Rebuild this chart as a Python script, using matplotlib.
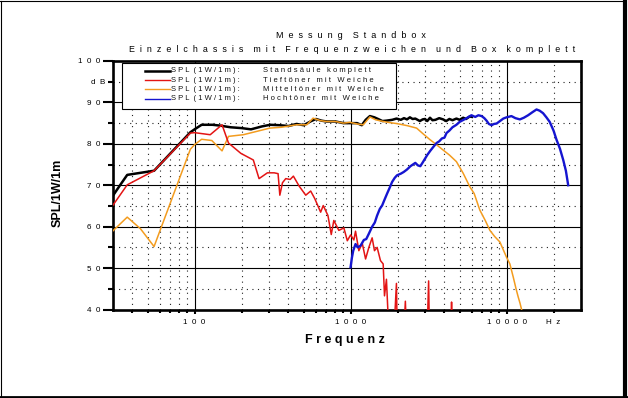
import matplotlib
matplotlib.use("Agg")
import matplotlib.pyplot as plt
from matplotlib.lines import Line2D
from matplotlib.patches import Rectangle

plt.rcParams['font.family'] = ['Liberation Sans', 'DejaVu Sans']

# ---------------- data ----------------
title1 = "Messung Standbox"
title2 = "Einzelchassis mit Frequenzweichen und Box komplett"
xlabel = "Frequenz"
ylabel = "SPL/1W/1m"
legend_prefix = "SPL (1W/1m):"
series_names = ["Standsäule komplett", "Tieftöner mit Weiche",
                "Mitteltöner mit Weiche", "Hochtöner mit Weiche"]

y_major = [40, 50, 60, 70, 80, 90, 100]
y_major_labels = ["40", "50", "60", "70", "80", "90", "100"]
y_minor = [45, 55, 65, 75, 85, 95]
y_minor_labels = ["", "", "", "", "", "dB"]
x_major = [100, 1000, 10000]
x_major_labels = ["100", "1000", "10000"]
x_minor = [40, 50, 60, 70, 80, 90, 200, 300, 400, 500, 600, 700, 800, 900,
           2000, 3000, 4000, 5000, 6000, 7000, 8000, 9000, 20000]
x_minor_labels = [""] * 22 + ["Hz"]

f_total = [30, 33, 37, 45, 55, 94, 100, 111, 130, 146, 170, 200, 230, 270, 305,
           350, 400, 450, 500, 560, 600, 650, 700, 800, 900, 1000, 1100, 1180,
           1250, 1330, 1420, 1500, 1600, 1700, 1850, 1970, 2100, 2200, 2300,
           2400, 2500, 2600, 2780, 2900, 3000, 3100, 3230, 3350, 3500, 3700,
           3920, 4100, 4300, 4500, 4770, 5000, 5270, 5500, 5800, 6000]
db_total = [67.5, 69.8, 72.5, 73.0, 73.5, 82.8, 83.5, 84.6, 84.6, 84.4, 84.0,
            83.8, 83.5, 84.2, 84.6, 84.5, 84.3, 84.8, 84.5, 85.5, 86.0, 85.6,
            85.4, 85.4, 85.0, 85.0, 85.0, 84.5, 85.8, 86.7, 86.4, 86.0, 85.5,
            85.6, 85.8, 86.1, 85.8, 86.2, 85.9, 86.4, 86.0, 86.1, 85.5, 85.9,
            86.0, 85.5, 86.3, 85.7, 85.8, 86.2, 85.9, 85.5, 86.0, 85.7, 86.1,
            85.8, 86.3, 86.0, 86.6, 86.5]

f_woofer = [30, 37, 55, 94, 100, 126, 150, 165, 198, 238, 259, 293, 324, 343,
            352, 366, 384, 410, 430, 468, 516, 555, 589, 643, 668, 716, 752,
            781, 841, 906, 953, 1000, 1050, 1076, 1130, 1188, 1248, 1310, 1375,
            1423, 1480, 1555, 1618, 1650, 1698, 1757, 1900, 1968, 1990, 2200,
            2245, 2280, 3100, 3165, 3200, 4400, 4440, 4480]
db_woofer = [65.2, 70.1, 73.5, 82.6, 82.7, 82.2, 84.6, 80.2, 77.7, 76.1, 71.6,
             73.0, 73.0, 72.8, 67.6, 70.6, 71.6, 71.4, 72.2, 69.8, 67.6, 68.6,
             66.8, 63.5, 65.1, 62.7, 58.1, 61.5, 59.1, 59.7, 56.6, 58.0, 56.8,
             58.9, 54.2, 56.0, 52.2, 55.0, 57.3, 54.2, 55.0, 51.8, 51.0, 43.3,
             47.3, 35.0, 35.0, 46.3, 35.0, 35.0, 42.0, 35.0, 35.0, 46.9, 35.0,
             35.0, 41.8, 35.0]

f_mid = [30, 37, 45, 55, 94, 100, 111, 129, 150, 165, 205, 250, 304, 360, 451,
         524, 575, 640, 701, 800, 900, 990, 1100, 1206, 1330, 1450, 1618, 1800,
         1972, 2300, 2650, 2900, 3230, 3500, 3920, 4300, 4770, 5270, 5820, 6200,
         6740, 7300, 7820, 8400, 9060, 10000, 10500, 11040, 11500, 11880, 12200,
         12480, 12800]
db_mid = [59.0, 62.3, 59.5, 55.2, 78.7, 79.8, 81.1, 80.8, 78.3, 81.8, 82.2,
          83.0, 83.8, 84.0, 84.6, 84.6, 86.2, 85.6, 85.4, 85.4, 85.0, 85.2,
          84.8, 84.6, 86.5, 85.8, 85.4, 85.1, 84.9, 84.4, 83.8, 82.5, 81.0,
          80.0, 78.5, 77.3, 75.7, 72.9, 69.6, 68.0, 64.0, 61.5, 59.1, 57.6,
          56.3, 52.6, 51.0, 47.8, 45.0, 43.0, 41.5, 40.0, 38.0]

f_tweeter = [1000, 1020, 1040, 1076, 1110, 1158, 1217, 1260, 1310, 1375, 1430,
             1480, 1540, 1593, 1650, 1715, 1786, 1846, 1920, 1985, 2100, 2190,
             2300, 2420, 2600, 2700, 2800, 2900, 3010, 3100, 3240, 3400, 3560,
             3700, 3850, 4000, 4120, 4300, 4500, 4770, 5000, 5300, 5600, 5950,
             6300, 6600, 6920, 7200, 7440, 7700, 8020, 8300, 8630, 9000, 9530,
             10000, 10740, 11400, 12170, 12900, 13740, 14600, 15560, 16300,
             17140, 18000, 18900, 20000, 20900, 22000, 23080, 24000, 24840]
db_tweeter = [50.2, 52.5, 54.2, 55.8, 55.0, 55.4, 56.8, 57.0, 58.3, 60.0, 61.0,
              62.7, 64.3, 65.1, 66.5, 68.0, 69.5, 70.8, 71.8, 72.4, 72.8, 73.2,
              73.8, 74.6, 75.4, 74.8, 74.6, 75.5, 76.5, 77.3, 78.3, 79.3, 80.2,
              80.6, 81.3, 81.5, 82.6, 83.2, 84.0, 84.6, 85.3, 85.8, 86.3, 86.9,
              86.5, 86.9, 86.7, 86.2, 85.6, 84.8, 84.5, 84.8, 84.9, 85.4, 86.1,
              86.4, 86.7, 86.2, 85.9, 86.3, 86.9, 87.6, 88.3, 88.0, 87.4, 86.4,
              85.3, 83.2, 81.0, 78.8, 76.1, 73.5, 70.0]

colors = ["#000000", "#e31414", "#f39c1f", "#1515d0"]
widths = [1.8, 1.1, 1.1, 1.7]


def spaced(s, n=2, w=4):
    return (" " * w).join((" " * n).join(word) for word in s.split(" "))


W, H = 628, 398
fig = plt.figure(figsize=(W / 100, H / 100), dpi=100)
ax = fig.add_axes([113 / W, 1 - 309.5 / H, 468 / W, 248.5 / H])

ax.set_xscale("log")
ax.set_xlim(30, 30000)
ax.set_ylim(40, 100)

ax.plot(f_total, db_total, color=colors[0], lw=widths[0], zorder=3)
ax.plot(f_mid, db_mid, color=colors[2], lw=widths[2], zorder=4)
ax.plot(f_woofer, db_woofer, color=colors[1], lw=widths[1], zorder=4)
ax.plot(f_tweeter, db_tweeter, color=colors[3], lw=widths[3], zorder=5)

tick_fs = 5.8
ax.set_yticks(y_major, [spaced(t) for t in y_major_labels], fontsize=tick_fs)
ax.set_yticks(y_minor, [spaced(t) for t in y_minor_labels], minor=True, fontsize=tick_fs)
ax.set_xticks(x_major, [spaced(t) for t in x_major_labels], fontsize=tick_fs)
ax.set_xticks(x_minor, [spaced(t) for t in x_minor_labels], minor=True, fontsize=tick_fs)

ax.tick_params(axis="y", which="major", length=7.2, width=1.5, pad=2.2, direction="out")
ax.tick_params(axis="y", which="minor", length=3.6, width=1.5, pad=2.2, direction="out")
ax.tick_params(axis="x", which="major", length=3.0, width=1.5, pad=4.0, direction="out")
ax.tick_params(axis="x", which="minor", length=2.2, width=1.5, pad=4.8, direction="out")

ax.grid(True, which="major", color="black", lw=0.8, zorder=1)
ax.grid(True, which="minor", color="#222222", lw=0.8, linestyle=(0, (1, 4)), zorder=1)
ax.set_axisbelow(True)

for sp in ax.spines.values():
    sp.set_linewidth(1.9)

# titles and axis labels
fig.text(351 / W, 1 - 36 / H, spaced(title1), ha="center", va="center", fontsize=6.5)
fig.text(352 / W, 1 - 50 / H, spaced(title2), ha="center", va="center", fontsize=6.4)
fig.text(345 / W, 1 - 340 / H, spaced(xlabel, 1, 2), ha="center", va="center",
         fontsize=9, fontweight="bold")
fig.text(58 / W, 1 - 193 / H, ylabel, ha="center", va="center", rotation=90,
         fontsize=9, fontweight="bold")

# legend box
lx0, lx1, ly0, ly1 = 121.7, 396, 62.5, 109.3
fig.add_artist(Rectangle((lx0 / W, 1 - ly1 / H), (lx1 - lx0) / W, (ly1 - ly0) / H,
                         transform=fig.transFigure, facecolor="white",
                         edgecolor="black", lw=0.8, zorder=6))
rows = [71.0, 80.2, 89.4, 98.6]
for name, c, lw, ry in zip(series_names, colors, [1.8, 1.0, 1.0, 1.0], rows):
    fig.add_artist(Line2D([145 / W, 170 / W], [1 - ry / H, 1 - ry / H],
                          transform=fig.transFigure, color=c, lw=lw, zorder=7))
    fig.text(171 / W, 1 - ry / H, spaced(legend_prefix, 1, 2), ha="left", va="center",
             fontsize=5.5, color="#111111", zorder=7)
    fig.text(263 / W, 1 - ry / H, spaced(name, 1, 3), ha="left", va="center",
             fontsize=5.5, color="#111111", zorder=7)

# outer frame (thin top/left, heavy right/bottom)
fig.add_artist(Line2D([0.5 / W, 0.5 / W], [0, 1 - 1 / H], transform=fig.transFigure,
                      color="black", lw=0.8))
fig.add_artist(Line2D([0, 625 / W], [1 - 1 / H, 1 - 1 / H], transform=fig.transFigure,
                      color="black", lw=0.8))
fig.add_artist(Line2D([625.3 / W, 625.3 / W], [0, 1 - 1 / H], transform=fig.transFigure,
                      color="black", lw=3.0))
fig.add_artist(Line2D([0, 627 / W], [1 - 397 / H, 1 - 397 / H], transform=fig.transFigure,
                      color="black", lw=2.0))

fig.savefig("out.png", dpi=100)
